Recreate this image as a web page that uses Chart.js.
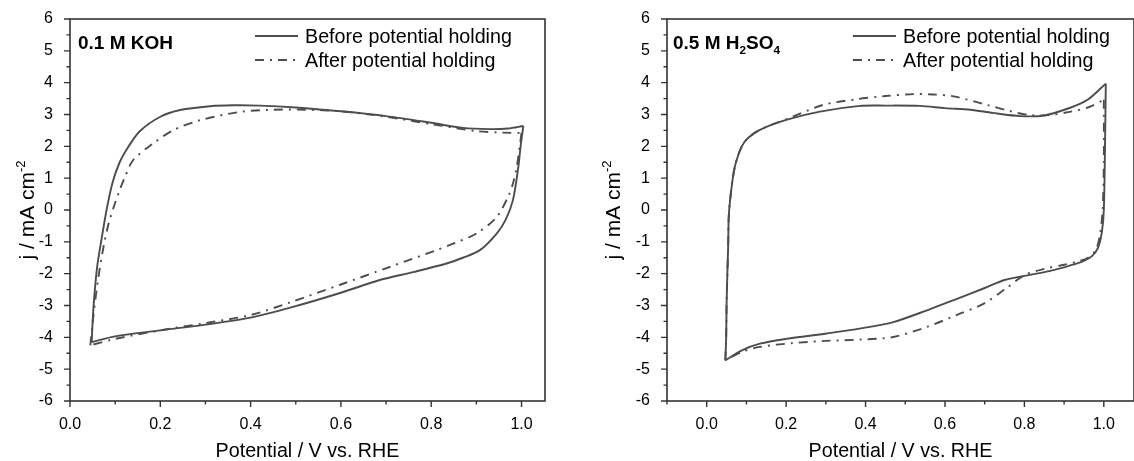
<!DOCTYPE html>
<html><head><meta charset="utf-8">
<script src="https://cdn.jsdelivr.net/npm/chart.js@4/dist/chart.umd.min.js"></script>
<style>
html,body{margin:0;padding:0;background:#fff;}
#wrap{position:relative;width:1134px;height:461px;overflow:hidden;}
#wrap canvas{position:absolute;top:0;}
</style></head>
<body><div id="wrap"><canvas id="koh" width="567" height="461" style="left:0"></canvas><canvas id="h2so4" width="567" height="461" style="left:567px"></canvas></div>
<script>
'use strict';
// 0.1 M KOH
const kohBeforeUpV=[0.048,0.052,0.06,0.07,0.081,0.094,0.11,0.129,0.155,0.2,0.244,0.31,0.36,0.42,0.5,0.6,0.7,0.8,0.87,0.93,0.97,1.004];
const kohBeforeUpJ=[-4.15,-3.05,-1.8,-0.9,0.0,0.85,1.5,1.98,2.48,2.93,3.14,3.26,3.29,3.28,3.22,3.1,2.95,2.74,2.58,2.54,2.56,2.64];
const kohBeforeDnV=[1.004,0.998,0.993,0.981,0.965,0.945,0.908,0.87,0.834,0.76,0.686,0.6,0.49,0.4,0.3,0.2,0.1,0.048];
const kohBeforeDnJ=[2.64,2.0,1.36,0.31,-0.3,-0.74,-1.26,-1.5,-1.68,-1.95,-2.2,-2.6,-3.06,-3.38,-3.6,-3.78,-3.97,-4.15];
const kohAfterUpV=[0.045,0.052,0.063,0.075,0.086,0.097,0.108,0.12,0.14,0.184,0.229,0.288,0.376,0.45,0.52,0.6,0.7,0.8,0.9,0.96,1.0];
const kohAfterUpJ=[-4.25,-3.3,-2.1,-1.1,-0.4,0.1,0.55,0.98,1.57,2.09,2.51,2.82,3.08,3.15,3.15,3.1,2.93,2.7,2.48,2.43,2.42];
const kohAfterDnV=[1.0,0.995,0.99,0.981,0.97,0.945,0.9,0.85,0.812,0.708,0.6,0.49,0.4,0.3,0.2,0.1,0.045];
const kohAfterDnJ=[2.42,1.9,1.4,0.83,0.41,-0.22,-0.74,-1.05,-1.26,-1.79,-2.34,-2.89,-3.3,-3.55,-3.78,-4.05,-4.25];
// 0.5 M H2SO4
const acidBeforeUpV=[0.047,0.049,0.05,0.052,0.054,0.056,0.065,0.073,0.088,0.104,0.134,0.2,0.285,0.386,0.45,0.538,0.6,0.664,0.72,0.79,0.85,0.917,0.96,1.005];
const acidBeforeUpJ=[-4.72,-4.0,-3.0,-2.0,-1.15,-0.1,0.94,1.47,1.99,2.26,2.52,2.83,3.09,3.27,3.28,3.27,3.2,3.15,3.05,2.95,2.97,3.22,3.47,3.97];
const acidBeforeDnV=[1.005,1.003,1.0,0.995,0.985,0.97,0.95,0.9,0.85,0.8,0.75,0.7,0.622,0.555,0.47,0.388,0.302,0.2,0.134,0.09,0.047];
const acidBeforeDnJ=[3.97,2.0,0.0,-0.7,-1.2,-1.45,-1.6,-1.8,-1.95,-2.07,-2.2,-2.45,-2.83,-3.15,-3.52,-3.72,-3.88,-4.05,-4.2,-4.4,-4.72];
const acidAfterUpV=[0.047,0.049,0.05,0.052,0.054,0.056,0.065,0.073,0.088,0.104,0.134,0.2,0.293,0.378,0.45,0.521,0.57,0.622,0.706,0.76,0.807,0.86,0.917,0.96,1.0];
const acidAfterUpJ=[-4.72,-4.0,-3.0,-2.0,-1.15,-0.1,0.94,1.47,1.99,2.26,2.52,2.85,3.3,3.48,3.58,3.64,3.63,3.57,3.3,3.12,2.99,2.98,3.09,3.22,3.46];
const acidAfterDnV=[1.0,1.0,0.997,0.99,0.98,0.96,0.93,0.9,0.85,0.8,0.75,0.698,0.639,0.555,0.47,0.388,0.302,0.218,0.134,0.09,0.047];
const acidAfterDnJ=[3.46,1.5,0.0,-0.8,-1.25,-1.5,-1.63,-1.72,-1.85,-2.05,-2.5,-2.94,-3.25,-3.67,-3.99,-4.07,-4.11,-4.18,-4.3,-4.45,-4.72];

const legendLabels=['Before potential holding','After potential holding'];
const yTicks={min:-6,max:6,step:1};

const LINE='#4d4d4d', AXIS='#333', FONT='"Liberation Sans", Arial, sans-serif';
const DASHDOT=[9,6,2,6];
const zip=(v,j)=>v.map((x,i)=>({x, y:j[i]}));

function drawRich(ctx, segs, x, y, size, bold, align){
  const f=(s)=>(bold?'bold ':'')+s+'px '+FONT;
  let w=0; segs.forEach(s=>{ ctx.font=f(s.sub||s.sup?size*0.62:size); s.w=ctx.measureText(s.t).width; w+=s.w; });
  let cx=align==='center'?x-w/2:x;
  ctx.textBaseline='alphabetic'; ctx.textAlign='left';
  segs.forEach(s=>{
    ctx.font=f(s.sub||s.sup?size*0.62:size);
    const dy=s.sub?size*0.25:(s.sup?-size*0.42:0);
    ctx.fillText(s.t, cx, y+dy); cx+=s.w;
  });
}

const decor={
  id:'decor',
  afterDraw(chart, args, o){
    const {ctx, chartArea:a, scales:{x,y}}=chart;
    ctx.save();
    ctx.strokeStyle=AXIS; ctx.lineWidth=1.6;
    ctx.strokeRect(a.left,a.top,a.right-a.left,a.bottom-a.top);
    ctx.beginPath(); ctx.lineWidth=1.4;
    for(let i=Math.ceil(x.min*10-1e-6); i<=Math.floor(x.max*10+1e-6); i++){
      const px=x.getPixelForValue(i/10), len=(i%2===0)?6:3.5;
      ctx.moveTo(px,a.bottom); ctx.lineTo(px,a.bottom+len);
    }
    for(let i=y.min*2; i<=y.max*2; i++){
      const py=y.getPixelForValue(i/2), len=(i%2===0)?6:3.5;
      ctx.moveTo(a.left,py); ctx.lineTo(a.left-len,py);
    }
    ctx.stroke();
    ctx.fillStyle='#000';
    // axis titles
    drawRich(ctx,[{t:'Potential / V vs. RHE'}],(a.left+a.right)/2,a.bottom+56,19.7,false,'center');
    ctx.save(); ctx.translate(a.left-o.yTitleOff,(a.top+a.bottom)/2); ctx.rotate(-Math.PI/2);
    drawRich(ctx,[{t:'j / mA cm'},{t:'-2',sup:true}],0,7,21,false,'center');
    ctx.restore();
    // panel label
    drawRich(ctx,o.label,a.left+o.labelOff,a.top+30,19,true,'left');
    // legend
    const lx=a.left+o.legendOff;
    [0,1].forEach(k=>{
      const ly=a.top+17+k*24;
      ctx.beginPath(); ctx.strokeStyle=LINE; ctx.lineWidth=1.8; ctx.setLineDash(k?DASHDOT:[]);
      ctx.moveTo(lx,ly); ctx.lineTo(lx+43,ly); ctx.stroke(); ctx.setLineDash([]);
      drawRich(ctx,[{t:legendLabels[k]}],lx+50,ly+7,19.7,false,'left');
    });
    ctx.restore();
  }
};

function makeChart(id, sets, xr, opts){
  const ds=sets.map((d,i)=>({data:d, borderColor:LINE, borderWidth:1.9, pointRadius:0, showLine:true, fill:false, tension:0.3,
    borderDash:(i>=2)?DASHDOT:[]}));
  return new Chart(document.getElementById(id),{type:'scatter',data:{datasets:ds},plugins:[decor],
    options:{responsive:false,animation:false,
      layout:{padding:{top:19,right:opts.padRight,left:0,bottom:0}},
      plugins:{legend:{display:false},tooltip:{enabled:false},decor:opts},
      scales:{
        x:{type:'linear',min:xr[0],max:xr[1],grid:{display:false},border:{display:false},
          afterFit:s=>{s.height=60;},
          ticks:{stepSize:0.2,includeBounds:false,padding:6,color:'#000',font:{family:FONT,size:16},
            callback:v=>(Math.abs(v*5-Math.round(v*5))<1e-6)?v.toFixed(1):''}},
        y:{type:'linear',min:yTicks.min,max:yTicks.max,grid:{display:false},border:{display:false},
          afterFit:s=>{s.width=opts.yWidth;},
          ticks:{stepSize:yTicks.step,padding:9,color:'#000',font:{family:FONT,size:16},callback:v=>String(v)}}
      }}});
}

makeChart('koh',[zip(kohBeforeUpV,kohBeforeUpJ),zip(kohBeforeDnV,kohBeforeDnJ),zip(kohAfterUpV,kohAfterUpJ),zip(kohAfterDnV,kohAfterDnJ)],
  [0,1.052],{padRight:22,yWidth:70,yTitleOff:43,labelOff:8,legendOff:185,label:[{t:'0.1 M KOH'}]});
makeChart('h2so4',[zip(acidBeforeUpV,acidBeforeUpJ),zip(acidBeforeDnV,acidBeforeDnJ),zip(acidAfterUpV,acidAfterUpJ),zip(acidAfterDnV,acidAfterDnJ)],
  [-0.1,1.076],{padRight:0,yWidth:100,yTitleOff:54,labelOff:6,legendOff:186,
   label:[{t:'0.5 M H'},{t:'2',sub:true},{t:'SO'},{t:'4',sub:true}]});
</script></body></html>
